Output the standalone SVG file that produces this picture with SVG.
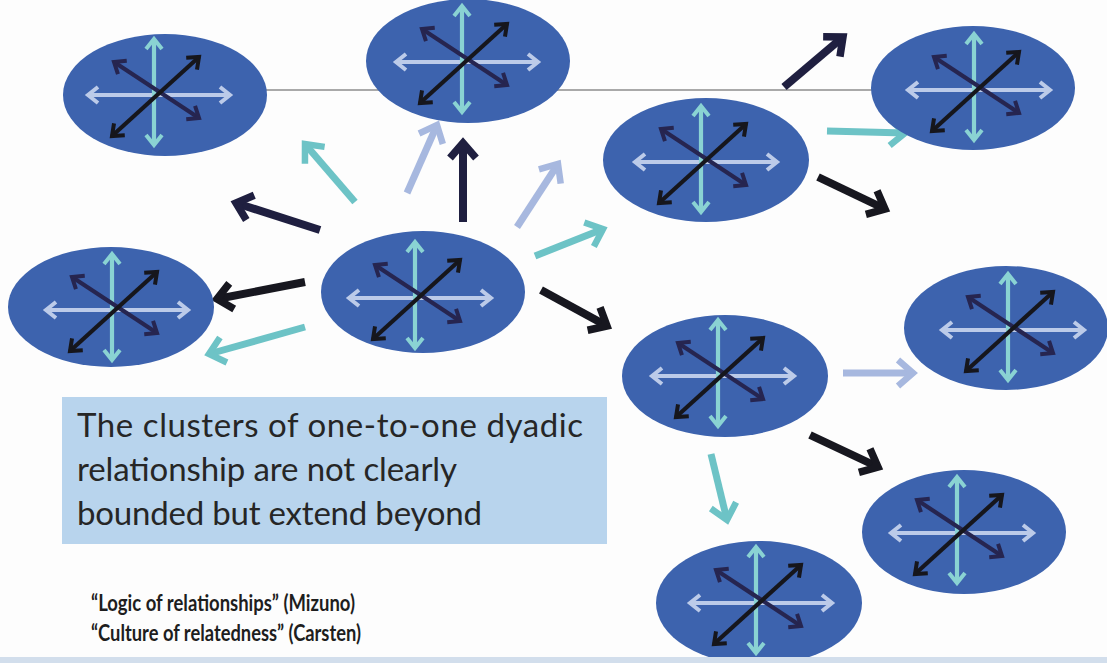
<svg xmlns="http://www.w3.org/2000/svg" xmlns:xlink="http://www.w3.org/1999/xlink" width="1107" height="663" viewBox="0 0 1107 663">
  <style>
    .node { fill: #3d63ae; }
    .gl-h { stroke: #bccbe9; stroke-width: 4.2; fill: none; }
    .gl-v { stroke: #8ad3d3; stroke-width: 4.2; fill: none; }
    .gl-n { stroke: #262550; stroke-width: 4.2; fill: none; }
    .gl-b { stroke: #16161c; stroke-width: 4.2; fill: none; }
    .c-black { stroke: #17171f; stroke-width: 8; fill: none; }
    .c-navy { stroke: #1f1f40; stroke-width: 8; fill: none; }
    .c-teal { stroke: #6dc3c6; stroke-width: 7; fill: none; }
    .c-pale { stroke: #a7b8df; stroke-width: 7; fill: none; }
    .note { font-family: Lato, "Liberation Sans", sans-serif; font-size: 33px; fill: #262626; }
    .cite { font-family: Lato, "Liberation Sans", sans-serif; font-size: 22px; font-weight: bold; fill: #1e1e1e; }
  </style>
  <defs>
    <!-- small open heads for the arrows inside each cluster -->
    <marker id="h-pale" markerUnits="userSpaceOnUse" viewBox="-5 -5 21 26" markerWidth="21" markerHeight="26" refX="10" refY="8" orient="auto-start-reverse">
      <path d="M0,0 L10,8 L0,16" fill="none" stroke="#bccbe9" stroke-width="4"/>
    </marker>
    <marker id="h-teal" markerUnits="userSpaceOnUse" viewBox="-5 -5 21 26" markerWidth="21" markerHeight="26" refX="10" refY="8" orient="auto-start-reverse">
      <path d="M0,0 L10,8 L0,16" fill="none" stroke="#8ad3d3" stroke-width="4"/>
    </marker>
    <marker id="h-navy" markerUnits="userSpaceOnUse" viewBox="-5 -5 21 26" markerWidth="21" markerHeight="26" refX="10" refY="8" orient="auto-start-reverse">
      <path d="M0,0 L10,8 L0,16" fill="none" stroke="#262550" stroke-width="4"/>
    </marker>
    <marker id="h-black" markerUnits="userSpaceOnUse" viewBox="-5 -5 21 26" markerWidth="21" markerHeight="26" refX="10" refY="8" orient="auto-start-reverse">
      <path d="M0,0 L10,8 L0,16" fill="none" stroke="#16161c" stroke-width="4"/>
    </marker>
    <!-- large open heads for the connectors between clusters -->
    <marker id="a-black" markerUnits="userSpaceOnUse" viewBox="-6 -6 30 38" markerWidth="30" markerHeight="38" refX="15" refY="13" orient="auto">
      <path d="M0,0 L15,13 L0,26" fill="none" stroke="#17171f" stroke-width="7.5"/>
    </marker>
    <marker id="a-navy" markerUnits="userSpaceOnUse" viewBox="-6 -6 30 38" markerWidth="30" markerHeight="38" refX="15" refY="13" orient="auto">
      <path d="M0,0 L15,13 L0,26" fill="none" stroke="#1f1f40" stroke-width="7.5"/>
    </marker>
    <marker id="a-teal" markerUnits="userSpaceOnUse" viewBox="-6 -6 30 38" markerWidth="30" markerHeight="38" refX="15" refY="13" orient="auto">
      <path d="M0,0 L15,13 L0,26" fill="none" stroke="#6dc3c6" stroke-width="6.5"/>
    </marker>
    <marker id="a-pale" markerUnits="userSpaceOnUse" viewBox="-6 -6 30 38" markerWidth="30" markerHeight="38" refX="15" refY="13" orient="auto">
      <path d="M0,0 L15,13 L0,26" fill="none" stroke="#a7b8df" stroke-width="6.5"/>
    </marker>
    <!-- four-way double-arrow emblem, centred on its crossing point -->
    <g id="glyph">
      <line class="gl-h" x1="-72" y1="2" x2="70" y2="2" marker-start="url(#h-pale)" marker-end="url(#h-pale)"/>
      <line class="gl-v" x1="-6" y1="-54" x2="-6" y2="52" marker-start="url(#h-teal)" marker-end="url(#h-teal)"/>
      <line class="gl-n" x1="-46" y1="-31" x2="39" y2="25" marker-start="url(#h-navy)" marker-end="url(#h-navy)"/>
      <line class="gl-b" x1="-48" y1="43" x2="39" y2="-36" marker-start="url(#h-black)" marker-end="url(#h-black)"/>
    </g>
  </defs>

  <rect width="1107" height="663" fill="#fdfdfd"/>

  <!-- thin rule running behind the upper clusters -->
  <line x1="165" y1="90" x2="973" y2="90" stroke="#8c8c8c" stroke-width="1.3"/>

  <g id="connectors">
    <line class="c-navy" x1="463" y1="222" x2="463" y2="143" marker-end="url(#a-navy)"/>
    <line class="c-pale" x1="407" y1="193" x2="437" y2="125" marker-end="url(#a-pale)"/>
    <line class="c-teal" x1="355" y1="202" x2="305" y2="144" marker-end="url(#a-teal)"/>
    <line class="c-navy" x1="320" y1="230" x2="236" y2="203" marker-end="url(#a-navy)"/>
    <line class="c-pale" x1="517" y1="227" x2="558" y2="164" marker-end="url(#a-pale)"/>
    <line class="c-teal" x1="535" y1="256" x2="603" y2="229" marker-end="url(#a-teal)"/>
    <line class="c-black" x1="305" y1="282" x2="217" y2="299" marker-end="url(#a-black)"/>
    <line class="c-teal" x1="305" y1="327" x2="209" y2="354" marker-end="url(#a-teal)"/>
    <line class="c-black" x1="541" y1="290" x2="607" y2="326" marker-end="url(#a-black)"/>
    <line class="c-navy" x1="784" y1="87" x2="843" y2="37" marker-end="url(#a-navy)"/>
    <line class="c-teal" x1="827" y1="131" x2="905" y2="133" marker-end="url(#a-teal)"/>
    <line class="c-black" x1="818" y1="177" x2="885" y2="209" marker-end="url(#a-black)"/>
    <line class="c-pale" x1="843" y1="373" x2="913" y2="373" marker-end="url(#a-pale)"/>
    <line class="c-black" x1="810" y1="435" x2="878" y2="467" marker-end="url(#a-black)"/>
    <line class="c-teal" x1="711" y1="454" x2="727" y2="520" marker-end="url(#a-teal)"/>
  </g>

  <g id="node-1"><ellipse class="node" cx="165" cy="95" rx="102" ry="61"/><use href="#glyph" transform="translate(160,93)"/></g>
  <g id="node-2"><ellipse class="node" cx="468" cy="61" rx="102" ry="62"/><use href="#glyph" transform="translate(468,60)"/></g>
  <g id="node-3"><ellipse class="node" cx="423" cy="292" rx="102" ry="61"/><use href="#glyph" transform="translate(421,296)"/></g>
  <g id="node-4"><ellipse class="node" cx="111" cy="307" rx="103" ry="60"/><use href="#glyph" transform="translate(118,308)"/></g>
  <g id="node-5"><ellipse class="node" cx="706" cy="160" rx="103" ry="62"/><use href="#glyph" transform="translate(707,160)"/></g>
  <g id="node-6"><ellipse class="node" cx="973" cy="88" rx="102" ry="62"/><use href="#glyph" transform="translate(980,88)"/></g>
  <g id="node-7"><ellipse class="node" cx="725" cy="376" rx="103" ry="61"/><use href="#glyph" transform="translate(724,374)"/></g>
  <g id="node-8"><ellipse class="node" cx="1006" cy="328" rx="102" ry="62"/><use href="#glyph" transform="translate(1014,328)"/></g>
  <g id="node-9"><ellipse class="node" cx="964" cy="532" rx="102" ry="62"/><use href="#glyph" transform="translate(963,531)"/></g>
  <g id="node-10"><ellipse class="node" cx="759" cy="603" rx="103" ry="62"/><use href="#glyph" transform="translate(762,601)"/></g>

  <g id="note">
    <rect x="62" y="397" width="545" height="147" fill="#b8d4ed"/>
    <text class="note" x="77" y="437" textLength="506">The clusters of one-to-one dyadic</text>
    <text class="note" x="77" y="481" textLength="380">relationship are not clearly</text>
    <text class="note" x="77" y="525" textLength="405">bounded but extend beyond</text>
  </g>

  <g id="citations">
    <text class="cite" x="91" y="611" textLength="264" lengthAdjust="spacingAndGlyphs">“Logic of relationships” (Mizuno)</text>
    <text class="cite" x="91" y="641" textLength="270" lengthAdjust="spacingAndGlyphs">“Culture of relatedness” (Carsten)</text>
  </g>

  <!-- pale strip along the lower edge -->
  <rect x="0" y="657" width="1107" height="6" fill="#d2deec"/>
</svg>
